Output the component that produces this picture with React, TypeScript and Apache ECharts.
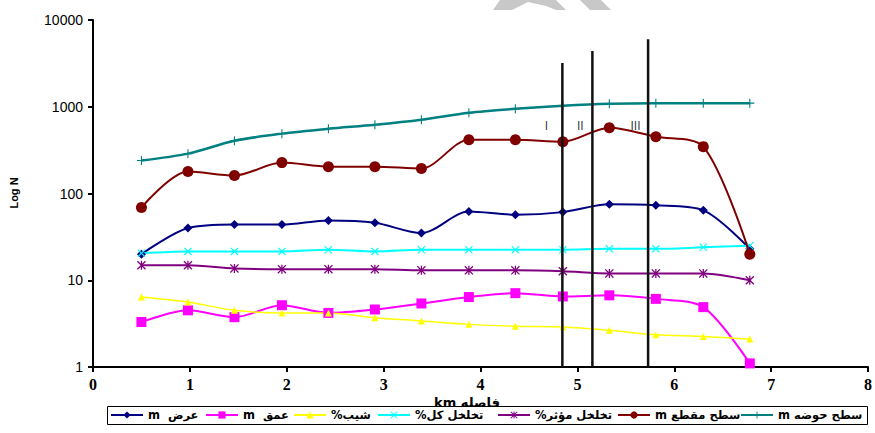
import React, { useEffect, useRef } from "react";
import * as echarts from "echarts";

const distanceKm = [0.5, 0.98, 1.46, 1.95, 2.43, 2.91, 3.39, 3.88, 4.36, 4.85, 5.33, 5.81, 6.3, 6.78];
const widthM = [20, 40, 44, 44, 49, 46, 35, 62, 57, 61, 75, 73, 64, 23];
const depthM = [3.3, 4.5, 3.75, 5.15, 4.2, 4.6, 5.4, 6.4, 7.1, 6.5, 6.7, 6.1, 4.9, 1.1];
const slopePct = [6.4, 5.6, 4.5, 4.2, 4.2, 3.7, 3.4, 3.1, 2.95, 2.9, 2.65, 2.35, 2.25, 2.1];
const totalPorosityPct = [20.5, 21.5, 21.5, 21.5, 22.5, 21.5, 22.5, 22.5, 22.5, 22.5, 23, 23, 24, 25];
const effectivePorosityPct = [14.9, 14.9, 13.7, 13.4, 13.4, 13.4, 13, 13, 13, 12.7, 12, 12, 12, 10];
const sectionAreaM = [69, 179, 161, 227, 204, 204, 194, 417, 417, 396, 574, 452, 347, 20];
const basinAreaM = [240, 288, 405, 490, 558, 621, 710, 853, 948, 1027, 1083, 1100, 1100, 1100];

const boundaryKm = [4.845, 5.155, 5.73];
const boundaryTop = [3200, 4400, 6000];
const zoneLabels = ["I", "II", "III"];
const zoneLabelKm = [4.68, 5.03, 5.6];
const zoneLabelValue = 600;

const xTickLabels = ["0", "1", "2", "3", "4", "5", "6", "7", "8"];
const yTickLabels: Record<number, string> = { 1: "1", 10: "10", 100: "100", 1000: "1000", 10000: "10000" };

const seriesNames = ["m  عرض", "m  عمق", "%شیب", "%تخلخل کل", "%تخلخل مؤثر", "m سطح مقطع", "m سطح حوضه"];
const legendLeft = [110, 205, 293, 377, 497, 617, 740];

const X_SYM = "path://M0,1 L1,0 L5,4 L9,0 L10,1 L6,5 L10,9 L9,10 L5,6 L1,10 L0,9 L4,5 Z";
const STAR_SYM =
  "path://M0,1 L1,0 L5,4 L9,0 L10,1 L6,5 L10,9 L9,10 L5,6 L1,10 L0,9 L4,5 Z M4.3,0 L5.7,0 L5.7,10 L4.3,10 Z";
const PLUS_SYM =
  "path://M4.4,0 L5.6,0 L5.6,4.4 L10,4.4 L10,5.6 L5.6,5.6 L5.6,10 L4.4,10 L4.4,5.6 L0,5.6 L0,4.4 L4.4,4.4 Z";

export default function App() {
  const ref = useRef<HTMLDivElement>(null);
  useEffect(() => {
    if (!ref.current) return;
    const chart = echarts.init(ref.current, null, { renderer: "svg" });
    const pts = (vals: number[]) => distanceKm.map((x, i) => [x, vals[i]]);
    const mk = (name: string, vals: number[], color: string, symbol: string, size: number, width: number, z = 3) => ({
      type: "line",
      name,
      data: pts(vals),
      smooth: 0.3,
      symbol,
      symbolSize: size,
      z,
      lineStyle: { color, width },
      itemStyle: { color, borderColor: color, borderWidth: 0 },
    });
    const series: any[] = [
      mk(seriesNames[0], widthM, "#000080", "diamond", 9, 2),
      mk(seriesNames[1], depthM, "#FF00FF", "rect", 10, 2),
      mk(seriesNames[2], slopePct, "#FFFF00", "triangle", 7, 1.5),
      mk(seriesNames[3], totalPorosityPct, "#00FFFF", X_SYM, 8, 2),
      mk(seriesNames[4], effectivePorosityPct, "#800080", STAR_SYM, 9, 2),
      mk(seriesNames[5], sectionAreaM, "#800000", "circle", 11, 2, 4),
      mk(seriesNames[6], basinAreaM, "#008080", PLUS_SYM, 9, 2.5),
    ];
    boundaryKm.forEach((k, i) => {
      series.push({
        type: "line",
        name: "boundary" + i,
        data: [
          [k, 1],
          [k, boundaryTop[i]],
        ],
        symbol: "none",
        z: 5,
        lineStyle: { color: "#111", width: 2.5 },
      });
    });
    series.push({
      type: "scatter",
      name: "zones",
      symbolSize: 0,
      z: 6,
      data: zoneLabels.map((t, i) => ({ name: t, value: [zoneLabelKm[i], zoneLabelValue] })),
      label: {
        show: true,
        position: "inside",
        formatter: (p: any) => p.name,
        color: "#000",
        fontSize: 12,
        fontFamily: "Liberation Sans",
      },
    });

    const legends = seriesNames.map((n, i) => ({
      data: [n],
      left: legendLeft[i],
      top: 409,
      orient: "horizontal",
      padding: 0,
      itemGap: 0,
      itemWidth: 32,
      itemHeight: 9,
      z: 20,
      textStyle: { fontFamily: "DejaVu Sans", fontSize: 11.5, fontWeight: "bold", color: "#000" },
    }));

    chart.setOption({
      animation: false,
      backgroundColor: "#fff",
      grid: { left: 93, right: 7, top: 20, bottom: 66 },
      xAxis: {
        type: "value",
        min: 0,
        max: 8,
        interval: 1,
        axisLine: { show: true, onZero: false, lineStyle: { color: "#000", width: 2 } },
        axisTick: { show: true, length: 5, lineStyle: { color: "#000", width: 2 } },
        axisLabel: {
          color: "#000",
          fontFamily: "Liberation Serif",
          fontWeight: "bold",
          fontSize: 16,
          margin: 9,
          formatter: (v: number) => xTickLabels[Math.round(v)],
        },
        splitLine: { show: false },
      },
      yAxis: {
        type: "log",
        logBase: 10,
        min: 1,
        max: 10000,
        axisLine: { show: true, onZero: false, lineStyle: { color: "#000", width: 2 } },
        axisTick: { show: true, length: 5, lineStyle: { color: "#000", width: 2 } },
        axisLabel: {
          color: "#000",
          fontFamily: "Liberation Sans",
          fontSize: 14,
          margin: 10,
          formatter: (v: number) => yTickLabels[Math.round(v)] ?? "",
        },
        splitLine: { show: false },
        minorTick: { show: false },
      },
      legend: legends,
      graphic: [
        {
          type: "text",
          x: 14,
          y: 193,
          rotation: Math.PI / 2,
          z: 5,
          style: {
            text: "Log N",
            fontFamily: "Liberation Sans",
            fontWeight: "bold",
            fontSize: 11,
            fill: "#000",
            align: "center",
            verticalAlign: "middle",
          },
        },
        {
          type: "text",
          x: 467,
          y: 402,
          z: 5,
          style: {
            text: "km فاصله",
            fontFamily: "DejaVu Sans",
            fontWeight: "bold",
            fontSize: 13,
            fill: "#000",
            align: "center",
            verticalAlign: "middle",
          },
        },
        {
          type: "rect",
          z: 10,
          shape: { x: 107.5, y: 406.5, width: 760, height: 18 },
          style: { fill: "#fff", stroke: "#000", lineWidth: 1 },
        },
        {
          type: "polygon",
          z: 1,
          shape: {
            points: [
              [493, 10],
              [512, 10],
              [528, 2],
              [546, 6],
              [556, 10],
              [566, 10],
              [556, 0],
              [500, 0],
            ],
          },
          style: { fill: "#c8c8c8" },
        },
        {
          type: "polygon",
          z: 1,
          shape: {
            points: [
              [580, 0],
              [601, 0],
              [611, 10],
              [590, 10],
            ],
          },
          style: { fill: "#c8c8c8" },
        },
      ],
      series,
    });
    return () => chart.dispose();
  }, []);
  return <div ref={ref} style={{ position: "fixed", left: 0, top: 0, width: 875, height: 433 }} />;
}
